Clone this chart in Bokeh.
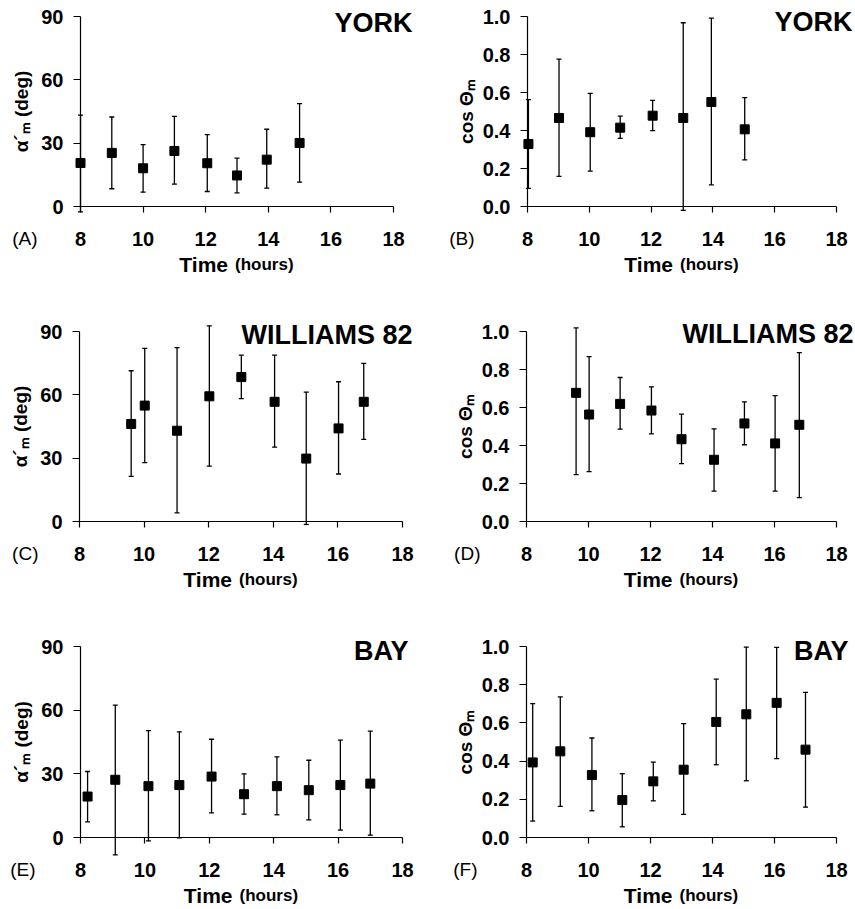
from bokeh.plotting import figure
from bokeh.layouts import gridplot
from bokeh.models import (ColumnDataSource, Whisker, Label, FixedTicker,
                          PrintfTickFormatter, Range1d, TeeHead)
from bokeh.embed import file_html
from bokeh.resources import INLINE

# ---------------- data ----------------
x_ticks = [8, 10, 12, 14, 16, 18]
alpha_ticks = [0, 30, 60, 90]
cos_ticks = [0.0, 0.2, 0.4, 0.6, 0.8, 1.0]

york_alpha_t = [8.0, 9.0, 10.0, 11.0, 12.05, 13.0, 13.95, 15.0]
york_alpha_v = [20.6, 25.4, 18.1, 26.3, 20.5, 14.7, 22.2, 30.1]
york_alpha_lo = [-2.5, 8.4, 6.8, 10.6, 7.1, 6.5, 8.7, 11.5]
york_alpha_hi = [43.3, 42.4, 29.3, 42.7, 34.0, 22.9, 36.6, 48.7]

york_cos_t = [8.03, 9.02, 10.03, 11.0, 12.05, 13.04, 13.95, 15.03]
york_cos_v = [0.329, 0.466, 0.391, 0.415, 0.478, 0.466, 0.55, 0.406]
york_cos_lo = [0.095, 0.159, 0.186, 0.359, 0.399, -0.02, 0.114, 0.245]
york_cos_hi = [0.562, 0.776, 0.595, 0.476, 0.559, 0.967, 0.991, 0.573]

wil_alpha_t = [9.6, 10.02, 11.02, 12.02, 13.01, 14.04, 15.02, 16.02, 16.8]
wil_alpha_v = [46.2, 54.9, 43.0, 59.3, 68.4, 56.7, 29.8, 44.1, 56.7]
wil_alpha_lo = [21.4, 27.9, 4.1, 26.2, 58.2, 35.2, -1.4, 22.5, 38.9]
wil_alpha_hi = [71.4, 82.0, 82.4, 92.7, 78.8, 78.8, 61.3, 66.2, 74.9]

wil_cos_t = [9.6, 10.02, 11.02, 12.03, 13.0, 14.05, 15.03, 16.02, 16.8]
wil_cos_v = [0.677, 0.563, 0.619, 0.584, 0.433, 0.325, 0.516, 0.411, 0.509]
wil_cos_lo = [0.247, 0.263, 0.486, 0.461, 0.305, 0.160, 0.404, 0.160, 0.126]
wil_cos_hi = [1.019, 0.868, 0.758, 0.709, 0.565, 0.488, 0.63, 0.663, 0.889]

bay_alpha_t = [8.22, 9.08, 10.11, 11.07, 12.07, 13.08, 14.1, 15.09, 16.07, 17.0]
bay_alpha_v = [19.3, 27.2, 24.2, 24.7, 28.7, 20.4, 24.2, 22.3, 24.7, 25.4]
bay_alpha_lo = [7.4, -8.2, -1.6, -0.2, 11.6, 11.0, 10.7, 8.3, 3.5, 1.1]
bay_alpha_hi = [31.1, 62.4, 50.4, 49.8, 46.3, 30.0, 38.0, 36.4, 45.9, 50.1]

bay_cos_t = [8.2, 9.09, 10.11, 11.09, 12.09, 13.07, 14.12, 15.09, 16.07, 17.0]
bay_cos_v = [0.393, 0.451, 0.327, 0.196, 0.294, 0.355, 0.605, 0.645, 0.705, 0.46]
bay_cos_lo = [0.086, 0.163, 0.140, 0.056, 0.192, 0.121, 0.381, 0.297, 0.413, 0.159]
bay_cos_hi = [0.701, 0.736, 0.521, 0.334, 0.395, 0.596, 0.829, 0.997, 0.995, 0.76]

FONT = "Liberation Sans"


def panel(t, v, lo, hi, kind, name, letter, fig_w, fig_h, fx0, fy0,
          ax_x0, ax_x1, ax_ytop, ax_y0, name_dx, name_dy, letter_dx):
    ymax = 90 if kind == "alpha" else 1.0
    # pixel geometry inside this figure
    a0, a1 = ax_x0 - fx0, ax_x1 - fx0
    tp, bt = ax_ytop - fy0, ax_y0 - fy0
    ux = 10.0 / (a1 - a0)
    uy = ymax / (bt - tp)
    xr = Range1d(8 - a0 * ux, 8 + (fig_w - a0) * ux)
    yr = Range1d(0 - (fig_h - bt) * uy, ymax + tp * uy)
    p = figure(width=fig_w, height=fig_h, x_range=xr, y_range=yr,
               output_backend="svg", toolbar_location=None,
               min_border=0, min_border_left=0, min_border_right=0,
               min_border_top=0, min_border_bottom=0)
    p.outline_line_color = None
    p.background_fill_color = "white"
    p.border_fill_color = "white"
    p.grid.visible = False

    xa = p.xaxis[0]
    xa.fixed_location = 0
    xa.bounds = (8, 18)
    xa.ticker = FixedTicker(ticks=x_ticks)
    xa.major_tick_in = 0
    xa.major_tick_out = 6
    xa.minor_tick_line_color = None
    xa.major_label_standoff = 19
    xa.major_label_text_font = FONT
    xa.major_label_text_font_style = "bold"
    xa.major_label_text_font_size = "20px"
    xa.major_label_text_color = "black"
    xa.axis_line_color = "black"
    xa.axis_line_width = 1.2
    xa.major_tick_line_color = "black"
    xa.major_tick_line_width = 1.2

    ya = p.yaxis[0]
    ya.fixed_location = 8
    ya.bounds = (0, ymax)
    ya.ticker = FixedTicker(ticks=alpha_ticks if kind == "alpha" else cos_ticks)
    if kind == "cos":
        ya.formatter = PrintfTickFormatter(format="%.1f")
    ya.major_tick_in = 0
    ya.major_tick_out = 7
    ya.minor_tick_line_color = None
    ya.major_label_standoff = 10
    ya.major_label_text_font = FONT
    ya.major_label_text_font_style = "bold"
    ya.major_label_text_font_size = "20px"
    ya.major_label_text_color = "black"
    ya.axis_line_color = "black"
    ya.axis_line_width = 1.2
    ya.major_tick_line_color = "black"
    ya.major_tick_line_width = 1.2
    ya.axis_label = "\u03b1\u00b4\u2098 (deg)" if kind == "alpha" else "cos \u0398\u2098"
    ya.axis_label_text_font = FONT
    ya.axis_label_text_font_style = "bold"
    ya.axis_label_text_font_size = "19px"
    ya.axis_label_text_color = "black"
    ya.axis_label_standoff = 6 if kind == "alpha" else 3

    src = ColumnDataSource(dict(t=t, v=v, lo=lo, hi=hi))
    w = Whisker(base="t", upper="hi", lower="lo", source=src,
                line_color="black", line_width=1.3,
                upper_head=TeeHead(size=5, line_color="black", line_width=1.3),
                lower_head=TeeHead(size=5, line_color="black", line_width=1.3))
    p.add_layout(w)
    p.scatter("t", "v", source=src, marker="square", size=9,
              fill_color="black", line_color="black")

    # panel name (top right)
    p.add_layout(Label(x=18, y=ymax, x_offset=name_dx, y_offset=name_dy + 10,
                       text=name, text_align="right", text_baseline="alphabetic",
                       text_font=FONT, text_font_style="bold",
                       text_font_size="27px", text_color="black"))
    # panel letter
    p.add_layout(Label(x=8, y=0, x_offset=letter_dx, y_offset=-32,
                       text=letter, text_align="right",
                       text_baseline="alphabetic", text_font=FONT,
                       text_font_size="19px", text_color="black"))
    # x axis title (two sizes)
    p.add_layout(Label(x=13, y=0, x_offset=-9, y_offset=-58, text="Time",
                       text_align="right", text_baseline="alphabetic",
                       text_font=FONT, text_font_style="bold",
                       text_font_size="21px", text_color="black"))
    p.add_layout(Label(x=13, y=0, x_offset=-2, y_offset=-58, text="(hours)",
                       text_align="left", text_baseline="alphabetic",
                       text_font=FONT, text_font_style="bold",
                       text_font_size="17px", text_color="black"))
    return p


LW, RW, H = 428, 427, 303
pA = panel(york_alpha_t, york_alpha_v, york_alpha_lo, york_alpha_hi, "alpha",
           "YORK", "(A)", LW, H, 0, 0, 80, 393, 16, 206, 19, -16, -43)
pB = panel(york_cos_t, york_cos_v, york_cos_lo, york_cos_hi, "cos",
           "YORK", "(B)", RW, H, 428, 0, 527, 836, 16, 206, 16, -15, -53)
pC = panel(wil_alpha_t, wil_alpha_v, wil_alpha_lo, wil_alpha_hi, "alpha",
           "WILLIAMS 82", "(C)", LW, H, 0, 303, 79, 402, 331, 521, 10, -13, -41)
pD = panel(wil_cos_t, wil_cos_v, wil_cos_lo, wil_cos_hi, "cos",
           "WILLIAMS 82", "(D)", RW, H, 428, 303, 526, 836, 331, 521, 17, -12, -46)
pE = panel(bay_alpha_t, bay_alpha_v, bay_alpha_lo, bay_alpha_hi, "alpha",
           "BAY", "(E)", LW, H, 0, 606, 80, 402, 646, 837, 6, -14, -45)
pF = panel(bay_cos_t, bay_cos_v, bay_cos_lo, bay_cos_hi, "cos",
           "BAY", "(F)", RW, H, 428, 606, 526, 836, 646, 837, 12, -14, -49)

grid = gridplot([[pA, pB], [pC, pD], [pE, pF]], toolbar_location=None)

open("out.html", "w").write(file_html(grid, INLINE))
